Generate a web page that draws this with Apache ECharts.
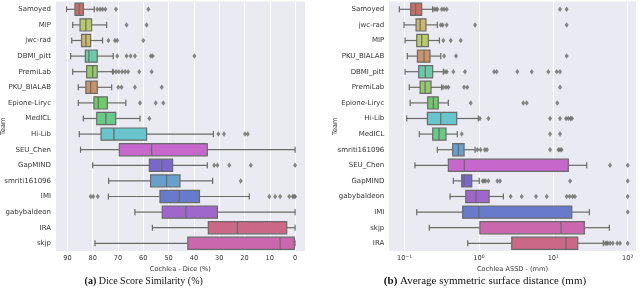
<!DOCTYPE html>
<html><head><meta charset="utf-8">
<script src="https://cdn.jsdelivr.net/npm/echarts@6/dist/echarts.min.js"></script>
<style>html,body{margin:0;padding:0;background:#fff}#c{width:640px;height:288px}</style>
</head><body><div id="c"></div>
<script>
// ---------- Data: (a) Dice ----------
const diceTeams = ['Samoyed','MIP','jwc-rad','DBMI_pitt','PremiLab','PKU_BIALAB','Epione-Liryc','MedICL','Hi-Lib','SEU_Chen','GapMIND','smriti161096','IMI','gabybaldeon','IRA','skjp'];
const diceLow  = [79.4, 74.5, 76.1, 71.9, 72.1, 72.5, 66.9, 61.3, 32.3, 0,    34.7, 32.6, 18.1, 0,    0,    0];
const diceQ1   = [83.7, 80.4, 80.8, 78.2, 78.2, 78.2, 74.2, 70.9, 58.7, 34.7, 48.4, 45.5, 37.8, 30.7, 3.3,  0.3];
const diceMed  = [85.4, 82.7, 82.7, 81.5, 80.0, 80.8, 77.8, 74.8, 71.6, 56.7, 52.7, 50.8, 45.8, 43.2, 22.8, 5.9];
const diceQ3   = [87.0, 85.0, 84.4, 82.9, 82.4, 82.7, 79.5, 78.4, 76.7, 69.5, 57.6, 57.1, 53.4, 52.5, 34.3, 42.4];
const diceHigh = [90.3, 87.9, 88.3, 88.7, 87.9, 85.7, 85.7, 83.7, 85.3, 84.8, 80.0, 73.7, 73.8, 63.3, 56.4, 79.1];
const diceOutliers = [
  [78.2, 77.1, 76.1, 75.0, 70.8, 58.0],
  [66.6, 58.7],
  [73.8, 71.2, 70.3, 60.0],
  [70.3, 66.6, 65.0, 63.3, 57.0, 56.3, 39.8],
  [71.9, 70.8, 69.7, 68.4, 67.2, 66.0, 61.6, 56.7],
  [69.9, 68.6, 63.3, 52.7],
  [61.3, 55.1, 52.1],
  [57.6],
  [30.3, 28.1, 19.8, 18.7],
  [],
  [32.0, 30.7, 26.0, 17.5, 0],
  [21.5],
  [80.8, 79.8, 78.0, 10.2, 7.9, 5.9, 2.3, 0.9, 0.4, 0],
  [],
  [],
  []
];
const diceTicks = [0, 10, 20, 30, 40, 50, 60, 70, 80, 90];

// ---------- Data: (b) ASSD ----------
const assdTeams = ['Samoyed','jwc-rad','MIP','PKU_BIALAB','DBMI_pitt','PremiLab','Epione-Liryc','Hi-Lib','MedICL','smriti161096','SEU_Chen','GapMIND','gabybaldeon','IMI','skjp','IRA'];
const assdLow  = [0.0851, 0.0985, 0.1016, 0.109, 0.1016, 0.116, 0.119, 0.107, 0.158, 0.276, 0.138, 0.453, 0.409, 0.146, 0.215, 0.707];
const assdQ1   = [0.121, 0.143, 0.146, 0.149, 0.155, 0.162, 0.205, 0.203, 0.239, 0.444, 0.388, 0.587, 0.665, 0.605, 1.03, 2.76];
const assdMed  = [0.141, 0.162, 0.170, 0.183, 0.190, 0.189, 0.244, 0.307, 0.291, 0.529, 0.636, 0.631, 0.914, 1.0, 12.7, 14.8];
const assdQ3   = [0.170, 0.194, 0.209, 0.220, 0.239, 0.227, 0.284, 0.503, 0.361, 0.631, 15.9, 0.80, 1.37, 17.7, 26.1, 21.3];
const assdHigh = [0.239, 0.276, 0.294, 0.307, 0.332, 0.316, 0.388, 0.98, 0.513, 0.887, 28.1, 1.01, 2.13, 30.5, 56.6, 47.0];
const assdOutliers = [
  [0.249, 0.265, 0.276, 0.316, 0.340, 0.369, 12.3, 15.1],
  [0.307, 0.326, 0.369, 0.887, 15.1],
  [0.332, 0.418, 0.569],
  [0.340, 0.492, 15.1],
  [0.35, 0.37, 0.453, 0.650, 1.60, 1.73, 3.28, 5.13, 8.57, 11.1, 12.3],
  [0.332, 0.361, 0.388, 0.631, 0.698, 12.3],
  [0.776, 3.95, 4.39, 11.3],
  [1.03, 1.34, 9.03, 12.3, 14.8, 15.9, 17.0, 17.8],
  [0.587, 9.03, 12.3],
  [0.95, 1.05, 1.2, 1.28, 9.03, 11.7, 12.3, 12.9],
  [57.8, 100],
  [1.12, 1.17, 1.23, 1.34, 1.77, 1.92, 16.8, 100],
  [2.67, 3.76, 5.85, 8.15, 15.1, 16.5, 18.1, 19.5, 100],
  [100],
  [],
  [50.1, 52, 54, 58, 63, 72.3, 78.7, 100]
];
const assdTicks = [0.1, 1, 10, 100];

// ---------- Styles ----------
const teamColors = {
  'Samoyed':'#cb6d67','PKU_BIALAB':'#cb9367','jwc-rad':'#cbb867','MIP':'#b9cb67',
  'PremiLab':'#93cb67','Epione-Liryc':'#6ecb67','MedICL':'#67cb86','DBMI_pitt':'#67cbac',
  'Hi-Lib':'#67c5cb','smriti161096':'#67a0cb','IMI':'#677acb','GapMIND':'#7a67cb',
  'gabybaldeon':'#9f67cb','SEU_Chen':'#c567cb','skjp':'#cb67ac','IRA':'#cb6787'
};
const EDGE = '#6a6a6a', LW = 1.2;
const FONT = 'DejaVu Sans';

function boxData(lo, q1, md, q3, hi) {
  return lo.map((v, i) => [i, lo[i], q1[i], md[i], q3[i], hi[i]]);
}
function outlierData(outs) {
  const r = [];
  outs.forEach((arr, i) => arr.forEach(v => r.push([v, i])));
  return r;
}
function makeRender(teams) {
  return function (params, api) {
    const cat = api.value(0);
    const band = api.size([0, 1])[1];
    const h = band * 0.78, cap = h * 0.5;
    const yc = api.coord([api.value(3), cat])[1];
    const X = v => api.coord([v, cat])[0];
    const xl = X(api.value(1)), x1 = X(api.value(2)), xm = X(api.value(3)), x3 = X(api.value(4)), xh = X(api.value(5));
    const ls = {stroke: EDGE, lineWidth: LW};
    return {type: 'group', children: [
      {type: 'line', shape: {x1: xl, y1: yc, x2: x1, y2: yc}, style: ls},
      {type: 'line', shape: {x1: x3, y1: yc, x2: xh, y2: yc}, style: ls},
      {type: 'line', shape: {x1: xl, y1: yc - cap / 2, x2: xl, y2: yc + cap / 2}, style: ls},
      {type: 'line', shape: {x1: xh, y1: yc - cap / 2, x2: xh, y2: yc + cap / 2}, style: ls},
      {type: 'rect', shape: {x: Math.min(x1, x3), y: yc - h / 2, width: Math.abs(x3 - x1), height: h},
        style: {fill: teamColors[teams[params.dataIndex]], stroke: EDGE, lineWidth: LW}},
      {type: 'line', shape: {x1: xm, y1: yc - h / 2, x2: xm, y2: yc + h / 2}, style: ls}
    ]};
  };
}

const chart = echarts.init(document.getElementById('c'), null, {renderer: 'canvas'});
const axisLabelStyle = {color: '#333', fontSize: 6.6, fontFamily: FONT};
const catLabelStyle = {color: '#333', fontSize: 7, fontFamily: FONT};
const nameStyle = {color: '#333', fontSize: 6.6, fontFamily: FONT};

chart.setOption({
  animation: false,
  backgroundColor: '#fff',
  grid: [
    {left: 55, top: 1.5, width: 250.7, height: 249.6, show: true, backgroundColor: '#EAEAF2', borderWidth: 0,
      containLabel: false, outerBoundsMode: 'none'},
    {left: 388.3, top: 1.5, width: 248.4, height: 249.6, show: true, backgroundColor: '#EAEAF2', borderWidth: 0,
      containLabel: false, outerBoundsMode: 'none'}
  ],
  xAxis: [
    {gridIndex: 0, type: 'value', inverse: true, min: -4.2, max: 94.9, splitNumber: 10, minInterval: 10, maxInterval: 10,
      axisLine: {show: false}, axisTick: {show: false},
      splitLine: {show: true, lineStyle: {color: '#fff', width: 1}},
      axisLabel: Object.assign({margin: 4, showMinLabel: false, showMaxLabel: false,
        formatter: v => diceTicks.indexOf(v) >= 0 ? String(v) : ''}, axisLabelStyle),
      name: 'Cochlea - Dice (%)', nameLocation: 'middle', nameGap: 15, nameMoveOverlap: false, nameTextStyle: nameStyle},
    {gridIndex: 1, type: 'log', logBase: 10, min: 0.0605, max: 132,
      axisLine: {show: false}, axisTick: {show: false},
      splitLine: {show: true, lineStyle: {color: '#fff', width: 1}},
      axisLabel: Object.assign({margin: 3, showMinLabel: false, showMaxLabel: false,
        formatter: v => {
          const t = assdTicks.find(a => Math.abs(a - v) / a < 1e-6);
          if (t === undefined) return '';
          const e = Math.round(Math.log10(t));
          return '{b|10}{s|' + (e < 0 ? '\u2212' + (-e) : e) + '}';
        },
        rich: {b: {fontSize: 6.6, fontFamily: FONT, color: '#333', lineHeight: 9},
               s: {fontSize: 4.6, fontFamily: FONT, color: '#333', verticalAlign: 'top', lineHeight: 6}}
      }, axisLabelStyle),
      name: 'Cochlea ASSD - (mm)', nameLocation: 'middle', nameGap: 15, nameMoveOverlap: false, nameTextStyle: nameStyle}
  ],
  yAxis: [
    {gridIndex: 0, type: 'category', data: diceTeams, inverse: true,
      axisLine: {show: false}, axisTick: {show: false}, splitLine: {show: false},
      axisLabel: Object.assign({margin: 4}, catLabelStyle),
      name: 'Team', nameLocation: 'middle', nameRotate: 90, nameGap: 48, nameMoveOverlap: false, nameTextStyle: nameStyle},
    {gridIndex: 1, type: 'category', data: assdTeams, inverse: true,
      axisLabel: Object.assign({margin: 4}, catLabelStyle),
      axisLine: {show: false}, axisTick: {show: false}, splitLine: {show: false},
      name: 'Team', nameLocation: 'middle', nameRotate: 90, nameGap: 50, nameMoveOverlap: false, nameTextStyle: nameStyle}
  ],
  series: [
    {type: 'custom', xAxisIndex: 0, yAxisIndex: 0, renderItem: makeRender(diceTeams),
      data: boxData(diceLow, diceQ1, diceMed, diceQ3, diceHigh), encode: {x: [1, 2, 3, 4, 5], y: 0}, z: 2},
    {type: 'scatter', xAxisIndex: 0, yAxisIndex: 0, data: outlierData(diceOutliers),
      symbol: 'diamond', symbolSize: [4, 5.5], itemStyle: {color: '#6a6a6a'}, z: 3},
    {type: 'custom', xAxisIndex: 1, yAxisIndex: 1, renderItem: makeRender(assdTeams),
      data: boxData(assdLow, assdQ1, assdMed, assdQ3, assdHigh), encode: {x: [1, 2, 3, 4, 5], y: 0}, z: 2},
    {type: 'scatter', xAxisIndex: 1, yAxisIndex: 1, data: outlierData(assdOutliers),
      symbol: 'diamond', symbolSize: [4, 5.5], itemStyle: {color: '#6a6a6a'}, z: 3}
  ],
  graphic: [
    {type: 'text', x: 143.7, y: 281.5, style: {text: '{b|(a)} Dice Score Similarity (%)',
      font: '10px "Liberation Serif"', fill: '#111', align: 'center', verticalAlign: 'middle',
      rich: {b: {fontWeight: 'bold', fontSize: 10, fontFamily: 'Liberation Serif', fill: '#111'}}}},
    {type: 'text', x: 485, y: 281.5, style: {text: '{b|(b)} Average symmetric surface distance (mm)',
      font: '11px "Liberation Serif"', fill: '#111', align: 'center', verticalAlign: 'middle',
      rich: {b: {fontWeight: 'bold', fontSize: 11, fontFamily: 'Liberation Serif', fill: '#111'}}}}
  ]
});
</script></body></html>
